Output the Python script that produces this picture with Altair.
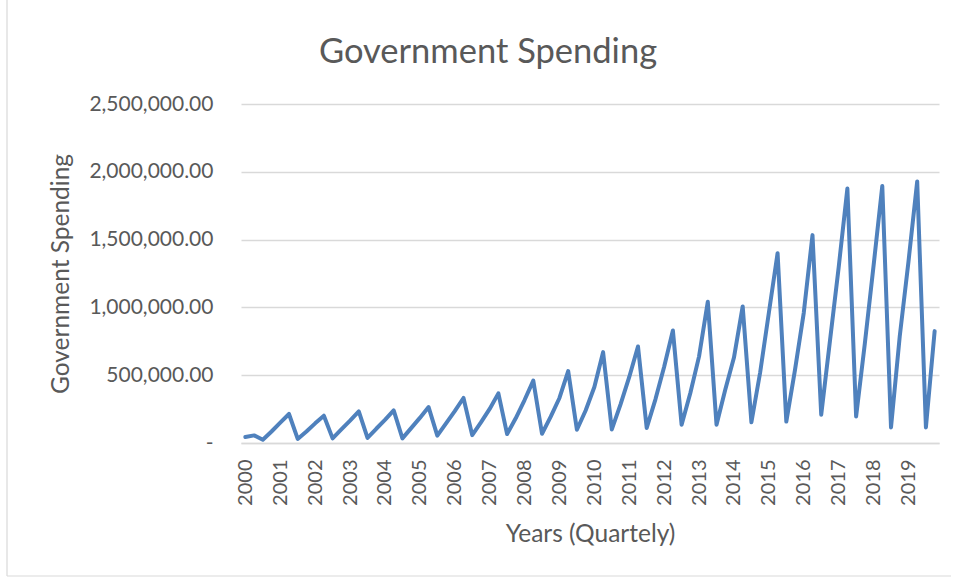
import altair as alt
import pandas as pd

YEARS = ["2000", "2001", "2002", "2003", "2004", "2005", "2006", "2007", "2008", "2009",
         "2010", "2011", "2012", "2013", "2014", "2015", "2016", "2017", "2018", "2019"]
QUARTERS = ["Q1", "Q2", "Q3", "Q4"]

SPENDING = [
    44000, 56000, 24000, 85000,
    150000, 214000, 30000, 85000,
    145000, 201000, 34000, 100000,
    165000, 233000, 37000, 105000,
    170000, 240000, 34000, 110000,
    185000, 265000, 54000, 145000,
    235000, 332000, 58000, 152000,
    251000, 366000, 66000, 184000,
    317000, 460000, 68000, 194000,
    332000, 530000, 98000, 240000,
    413000, 670000, 100000, 285000,
    487000, 712000, 111000, 322000,
    563000, 830000, 135000, 369000,
    639000, 1042000, 135000, 393000,
    630000, 1007000, 153000, 520000,
    960000, 1400000, 158000, 541000,
    960000, 1533000, 209000, 752000,
    1295000, 1877000, 196000, 734000,
    1307000, 1895000, 115000, 786000,
    1337000, 1929000, 115000, 825000,
]

Y_TICKS = [0, 500000, 1000000, 1500000, 2000000, 2500000]

periods = [f"{y} {q}" for y in YEARS for q in QUARTERS]
df = pd.DataFrame({
    "idx": list(range(len(SPENDING))),
    "period": periods[:len(SPENDING)],
    "spending": SPENDING,
})

FONT = "Lato"
GREY = "#595959"
LIGHT = "#d9d9d9"

year_label_expr = "[" + ",".join(f"'{y}'" for y in YEARS) + "][floor(datum.value / 4)]"
x_ticks = [i * 4 for i in range(len(YEARS))]

line = alt.Chart(df).mark_line(
    color="#4f81bd", strokeWidth=4, strokeJoin="round", strokeCap="round"
).encode(
    x=alt.X(
        "idx:Q",
        scale=alt.Scale(domain=[-0.5, len(SPENDING) - 0.5], nice=False, zero=False),
        axis=alt.Axis(
            values=x_ticks, labelExpr=year_label_expr, labelAngle=270,
            labelPadding=16, labelFlush=False, labelOverlap=False,
            ticks=False, grid=False, domainColor=LIGHT, domainWidth=1.3,
            labelFont=FONT, labelFontSize=20, labelColor=GREY,
            title="Years (Quartely)", titleFont=FONT, titleFontSize=24.5,
            titleFontWeight="normal", titleColor=GREY,
            titleY=98, titleBaseline="alphabetic",
        ),
    ),
    y=alt.Y(
        "spending:Q",
        scale=alt.Scale(domain=[0, 2500000], nice=False),
        axis=alt.Axis(
            values=Y_TICKS,
            labelExpr="datum.value == 0 ? '-\u00a0\u00a0\u00a0' : format(datum.value, ',.2f')",
            labelPadding=28, ticks=False, domain=False,
            grid=True, gridColor=LIGHT, gridWidth=1.3,
            labelFont=FONT, labelFontSize=21, labelColor=GREY,
            title="Government Spending", titleFont=FONT, titleFontSize=24.5,
            titleFontWeight="normal", titleColor=GREY, titleAngle=270,
            titleX=-173, titleY=169.5, titleBaseline="alphabetic", titleAlign="center",
        ),
    ),
    tooltip=["period:N", "spending:Q"],
)

frame_df = pd.DataFrame({"a": [0]})
left_border = alt.Chart(frame_df).mark_rule(color=LIGHT, strokeWidth=1.2).encode(
    x=alt.value(-234), y=alt.value(-104), y2=alt.value(472)
)
bottom_border = alt.Chart(frame_df).mark_rule(color=LIGHT, strokeWidth=1.2).encode(
    x=alt.value(-234), x2=alt.value(710), y=alt.value(472)
)

chart = alt.layer(left_border, bottom_border, line).properties(
    width=698,
    height=339,
    title=alt.TitleParams(
        "Government Spending", font=FONT, fontSize=34.5, fontWeight="normal",
        color=GREY, anchor="middle", dx=-102, offset=0, dy=98, frame="group",
        baseline="alphabetic",
    ),
    autosize=alt.AutoSizeParams(type="none"),
    padding={"left": 241, "top": 104, "right": 20, "bottom": 135},
).configure_view(stroke=None)

chart.save("out.html", embed_options={"renderer": "svg", "actions": False})
